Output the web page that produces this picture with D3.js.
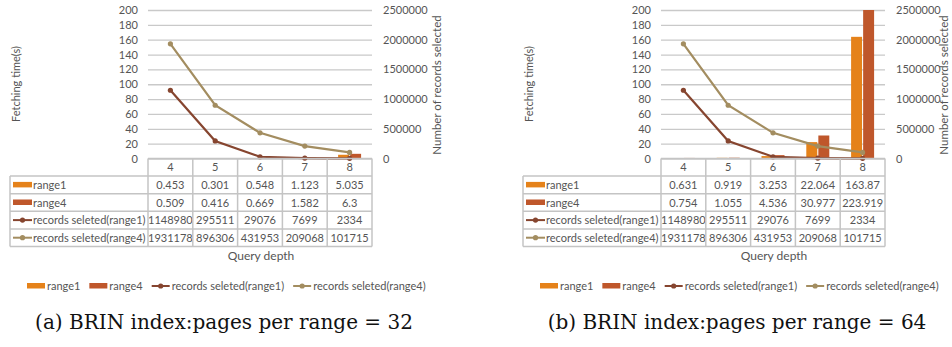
<!DOCTYPE html>
<html>
<head>
<meta charset="utf-8">
<script src="https://cdn.jsdelivr.net/npm/d3@7"></script>
<style>
  body { margin: 0; background: #fff; }
  svg { display: block; }
  text { font-family: Lato, "Open Sans", sans-serif; fill: #555; }
</style>
</head>
<body>
<svg id="chart" width="952" height="347"></svg>
<script>
const depths = ["4", "5", "6", "7", "8"];

// (a) pages per range = 32
const range1A = [0.453, 0.301, 0.548, 1.123, 5.035];
const range4A = [0.509, 0.416, 0.669, 1.582, 6.3];
// (b) pages per range = 64
const range1B = [0.631, 0.919, 3.253, 22.064, 163.87];
const range4B = [0.754, 1.055, 4.536, 30.977, 223.919];

const records1 = [1148980, 295511, 29076, 7699, 2334];
const records4 = [1931178, 896306, 431953, 209068, 101715];

const timeTicks = [0, 20, 40, 60, 80, 100, 120, 140, 160, 180, 200];
const recordTicks = [0, 500000, 1000000, 1500000, 2000000, 2500000];

const colors = {
  range1: "#e5821a",
  range4: "#bf572b",
  rec1: "#86452f",
  rec4: "#a38d60"
};

const svg = d3.select("#chart");

function drawPanel(offsetX, range1, range4, caption, clipId, rightTitleX) {
  const g = svg.append("g").attr("transform", `translate(${offsetX},0)`);

  const plotL = 148, plotR = 372, plotT = 10, plotB = 158.5;
  const x = d3.scaleBand().domain(depths).range([plotL, plotR]);
  const xIn = d3.scaleBand().domain(["range1", "range4"])
    .range([x.bandwidth() / 2 - 11.5, x.bandwidth() / 2 + 11.5]).paddingInner(0.09);
  const y = d3.scaleLinear().domain([0, 200]).range([plotB, plotT]);
  const y2 = d3.scaleLinear().domain([0, 2500000]).range([plotB, plotT]);

  g.append("clipPath").attr("id", clipId)
    .append("rect").attr("x", plotL).attr("y", plotT)
    .attr("width", plotR - plotL).attr("height", plotB - plotT);

  // gridlines
  g.append("g").call(d3.axisLeft(y).tickValues(timeTicks).tickSize(-(plotR - plotL)).tickFormat(""))
    .attr("transform", `translate(${plotL},0)`)
    .call(a => a.select(".domain").remove())
    .call(a => a.selectAll("line").attr("stroke", "#c9c9c9").attr("stroke-width", 1.3));

  // left tick labels
  g.append("g").selectAll("text").data(timeTicks).join("text")
    .attr("x", 138).attr("y", d => y(d) + 4)
    .attr("text-anchor", "end").attr("font-size", 11)
    .text(d => d);

  // right tick labels
  g.append("g").selectAll("text").data(recordTicks).join("text")
    .attr("x", 383).attr("y", d => y2(d) + 4)
    .attr("font-size", 11)
    .text(d => d);

  g.append("text")
    .attr("transform", `translate(20,84) rotate(-90)`)
    .attr("text-anchor", "middle").attr("font-size", 11)
    .text("Fetching time(s)");

  g.append("text")
    .attr("transform", `translate(${rightTitleX},85) rotate(-90)`)
    .attr("text-anchor", "middle").attr("font-size", 11.5)
    .text("Number of records selected");

  // bars
  const bars = g.append("g").attr("clip-path", `url(#${clipId})`);
  [["range1", range1], ["range4", range4]].forEach(([key, vals]) => {
    bars.selectAll(null).data(vals).join("rect")
      .attr("x", (d, i) => x(depths[i]) + xIn(key))
      .attr("width", xIn.bandwidth())
      .attr("y", d => y(d))
      .attr("height", d => plotB - y(d))
      .attr("fill", colors[key]);
  });

  // lines
  const line = d3.line().x((d, i) => x(depths[i]) + x.bandwidth() / 2).y(d => y2(d));
  [["rec1", records1], ["rec4", records4]].forEach(([key, vals]) => {
    g.append("path").datum(vals).attr("d", line)
      .attr("fill", "none").attr("stroke", colors[key]).attr("stroke-width", 2.2);
    g.append("g").selectAll("circle").data(vals).join("circle")
      .attr("cx", (d, i) => x(depths[i]) + x.bandwidth() / 2)
      .attr("cy", d => y2(d)).attr("r", 2.6)
      .attr("fill", colors[key]);
  });

  // data table
  const rowH = 17.6;
  const labelL = 10;
  const rows = [
    { label: "range1", key: "range1", type: "bar", vals: range1 },
    { label: "range4", key: "range4", type: "bar", vals: range4 },
    { label: "records seleted(range1)", key: "rec1", type: "line", vals: records1 },
    { label: "records seleted(range4)", key: "rec4", type: "line", vals: records4 }
  ];
  const tbl = g.append("g");
  const border = "#c4c4c4";
  const tableT = plotB, tableB = plotB + rowH * 5;

  // header cells
  depths.forEach(d => {
    tbl.append("text").attr("x", x(d) + x.bandwidth() / 2).attr("y", tableT + rowH / 2 + 4)
      .attr("text-anchor", "middle").attr("font-size", 11).text(d);
  });

  rows.forEach((r, ri) => {
    const top = tableT + rowH * (ri + 1);
    const cy = top + rowH / 2;
    if (r.type === "bar") {
      tbl.append("rect").attr("x", labelL + 3).attr("y", cy - 3)
        .attr("width", 19).attr("height", 5.5).attr("fill", colors[r.key]);
    } else {
      tbl.append("line").attr("x1", labelL + 3).attr("x2", labelL + 22)
        .attr("y1", cy).attr("y2", cy).attr("stroke", colors[r.key]).attr("stroke-width", 2);
      tbl.append("circle").attr("cx", labelL + 12.5).attr("cy", cy).attr("r", 2.6).attr("fill", colors[r.key]);
    }
    tbl.append("text").attr("x", labelL + 23).attr("y", cy + 4)
      .attr("font-size", 11).text(r.label);
    r.vals.forEach((v, i) => {
      tbl.append("text").attr("x", x(depths[i]) + x.bandwidth() / 2).attr("y", cy + 4)
        .attr("text-anchor", "middle").attr("font-size", 11).text(v);
    });
  });

  // table borders
  const hl = [tableT, ...d3.range(1, 6).map(k => tableT + rowH * k)];
  hl.forEach((yy, k) => {
    tbl.append("line").attr("x1", k === 0 ? plotL : labelL).attr("x2", plotR)
      .attr("y1", yy).attr("y2", yy).attr("stroke", border).attr("stroke-width", 1.5);
  });
  tbl.append("line").attr("x1", labelL).attr("x2", labelL).attr("y1", tableT + rowH).attr("y2", tableB)
    .attr("stroke", border).attr("stroke-width", 1.5);
  [plotL, ...depths.map(d => x(d) + x.bandwidth())].forEach(xx => {
    tbl.append("line").attr("x1", xx).attr("x2", xx).attr("y1", tableT).attr("y2", tableB)
      .attr("stroke", border).attr("stroke-width", 1.5);
  });

  g.append("text").attr("x", 261).attr("y", 260)
    .attr("text-anchor", "middle").attr("font-size", 12).text("Query depth");

  // legend
  const legend = g.append("g");
  let lx = 27;
  const ly = 286;
  rows.forEach(r => {
    if (r.type === "bar") {
      legend.append("rect").attr("x", lx).attr("y", ly - 3).attr("width", 18).attr("height", 5.5)
        .attr("fill", colors[r.key]);
    } else {
      legend.append("line").attr("x1", lx).attr("x2", lx + 18).attr("y1", ly).attr("y2", ly)
        .attr("stroke", colors[r.key]).attr("stroke-width", 2);
      legend.append("circle").attr("cx", lx + 9).attr("cy", ly).attr("r", 2.6).attr("fill", colors[r.key]);
    }
    const t = legend.append("text").attr("x", lx + 20).attr("y", ly + 4)
      .attr("font-size", 11).text(r.label);
    lx += 20 + t.node().getComputedTextLength() + 9;
  });

  g.append("text").attr("x", 224).attr("y", 329)
    .attr("text-anchor", "middle")
    .style("font-family", '"DejaVu Serif", "Liberation Serif", serif')
    .style("fill", "#111")
    .attr("font-size", 20)
    .text(caption);
}

drawPanel(0, range1A, range4A, "(a) BRIN index:pages per range = 32", "clipA", 441);
drawPanel(513, range1B, range4B, "(b) BRIN index:pages per range = 64", "clipB", 435);
</script>
</body>
</html>
